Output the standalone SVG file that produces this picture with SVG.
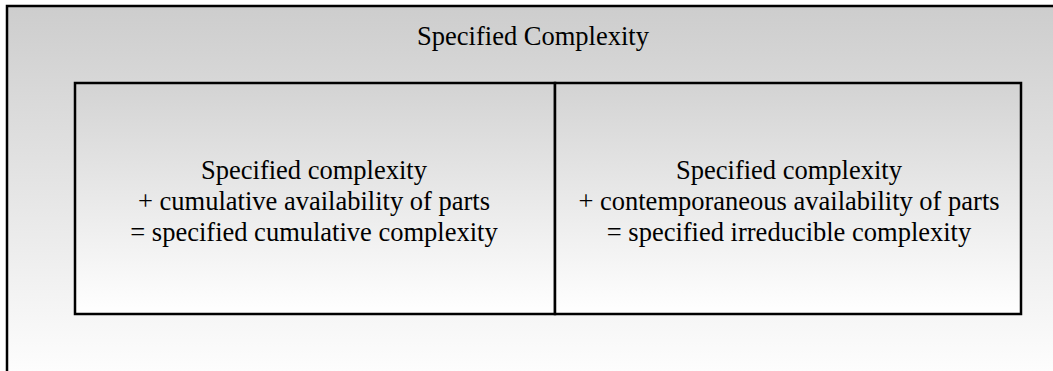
<svg xmlns="http://www.w3.org/2000/svg" width="1053" height="371" viewBox="0 0 1053 371">
<defs>
<linearGradient id="gOuter" x1="0" y1="0" x2="0" y2="1"><stop offset="0" stop-color="#cdcdcd"/><stop offset="1" stop-color="#ffffff"/></linearGradient>
<linearGradient id="gInner" x1="0" y1="0" x2="0" y2="1"><stop offset="0" stop-color="#d3d3d3"/><stop offset="1" stop-color="#ffffff"/></linearGradient>
</defs>
<style>
.box{stroke:#000;stroke-width:2.5}
text{font-family:"Liberation Serif","Times New Roman",serif;font-size:26.5px;fill:#000;text-anchor:middle}
</style>
<g id="outer">
<rect x="7" y="6" width="1060" height="380" fill="url(#gOuter)" class="box"/>
<text x="533" y="45">Specified Complexity</text>
</g>
<g id="left">
<rect x="75" y="83" width="480" height="231" fill="url(#gInner)" class="box"/>
<text x="314" y="179">Specified complexity</text>
<text x="314" y="210">+ cumulative availability of parts</text>
<text x="314" y="241">= specified cumulative complexity</text>
</g>
<g id="right">
<rect x="555" y="83" width="466" height="231" fill="url(#gInner)" class="box"/>
<text x="789" y="179">Specified complexity</text>
<text x="789" y="210">+ contemporaneous availability of parts</text>
<text x="789" y="241">= specified irreducible complexity</text>
</g>
<g id="connectors"/>
</svg>
